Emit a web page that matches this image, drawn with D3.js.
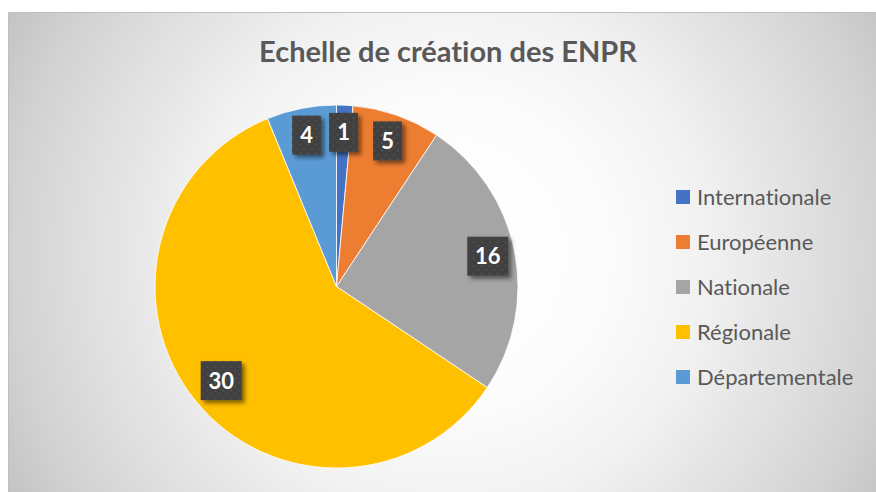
<!DOCTYPE html>
<html><head><meta charset="utf-8">
<script src="https://cdn.jsdelivr.net/npm/d3@7"></script>
<style>html,body{margin:0;padding:0;background:#fff;}svg{display:block;}text{font-variant-ligatures:none;font-feature-settings:"liga" 0;}</style>
</head><body>
<script>
const categories = ["Internationale", "Européenne", "Nationale", "Régionale", "Départementale"];
// counts shown in the data labels
const values = [1, 5, 16, 30, 4];
// share of the disc each slice occupies in the picture (percent)
const shares = [1.45, 7.85, 25.1, 59.4, 6.2];
const colors = ["#4472C4", "#ED7D31", "#A5A5A5", "#FFC000", "#5B9BD5"];
const title = "Echelle de création des ENPR";

const W = 876, H = 492;
const svg = d3.select("body").append("svg").attr("width", W).attr("height", H);
const defs = svg.append("defs");

const rg = defs.append("radialGradient").attr("id", "bg")
  .attr("gradientUnits", "userSpaceOnUse").attr("cx", 450).attr("cy", 255).attr("r", 505);
[[0, "#ffffff"], [0.3, "#fcfcfc"], [0.5, "#f2f2f2"], [0.85, "#d4d4d4"], [1, "#c3c3c3"]]
  .forEach(([o, c]) => rg.append("stop").attr("offset", o).attr("stop-color", c));

const pat = defs.append("pattern").attr("id", "dots").attr("patternUnits", "userSpaceOnUse")
  .attr("width", 8).attr("height", 8);
pat.append("rect").attr("width", 8).attr("height", 8).attr("fill", "#404040");
pat.append("circle").attr("cx", 2).attr("cy", 2).attr("r", 1.2).attr("fill", "#4e4e4e");
pat.append("circle").attr("cx", 6).attr("cy", 6).attr("r", 1.2).attr("fill", "#4a4a4a");

const f = defs.append("filter").attr("id", "shadow").attr("x", "-30%").attr("y", "-30%").attr("width", "170%").attr("height", "170%");
f.append("feDropShadow").attr("dx", 3).attr("dy", 3).attr("stdDeviation", 2.2)
  .attr("flood-color", "#000").attr("flood-opacity", 0.5);

svg.append("rect").attr("x", 8.5).attr("y", 12.5).attr("width", W).attr("height", H)
  .attr("fill", "url(#bg)").attr("stroke", "#bfbfbf").attr("stroke-width", 1);

svg.append("text").attr("x", 448).attr("y", 62).attr("text-anchor", "middle")
  .attr("font-family", "Lato, 'Open Sans', sans-serif").attr("font-weight", 700)
  .attr("font-size", 29).attr("fill", "#595959").text(title);

const cx = 336.5, cy = 286.5, R = 181.5;
const color = d3.scaleOrdinal().domain(categories).range(colors);
const data = categories.map((c, i) => ({ cat: c, value: values[i], share: shares[i] }));
const pie = d3.pie().value(d => d.share).sort(null);
const arcs = pie(data);
const arc = d3.arc().innerRadius(0).outerRadius(R);

const g = svg.append("g").attr("transform", `translate(${cx},${cy})`);
g.selectAll("path.slice").data(arcs).enter().append("path")
  .attr("class", "slice").attr("d", arc)
  .attr("fill", d => color(d.data.cat)).attr("stroke", "#ffffff").attr("stroke-width", 0.8);

const labelArc = d3.arc().innerRadius(R * 0.85).outerRadius(R * 0.85);
const labelArcBig = d3.arc().innerRadius(R * 0.82).outerRadius(R * 0.82);
const lg = g.selectAll("g.lab").data(arcs).enter().append("g").attr("class", "lab")
  .attr("transform", d => {
    const p = (d.data.share > 50 ? labelArcBig : labelArc).centroid(d);
    return `translate(${p[0]},${p[1]})`;
  });
lg.each(function (d) {
  const s = d3.select(this);
  const txt = String(d.data.value);
  const w = txt.length > 1 ? 41 : 29, h = 39;
  s.append("rect").attr("x", -w / 2).attr("y", -h / 2).attr("width", w).attr("height", h)
    .attr("fill", "url(#dots)").attr("filter", "url(#shadow)");
  s.append("text").attr("text-anchor", "middle").attr("y", 8)
    .attr("font-family", "Lato, 'Open Sans', sans-serif").attr("font-weight", 700)
    .attr("font-size", 22).attr("fill", "#ffffff").text(txt);
});

const leg = svg.append("g").attr("transform", "translate(676,0)");
const ly = d3.scalePoint().domain(categories).range([197, 377]);
const li = leg.selectAll("g").data(categories).enter().append("g")
  .attr("transform", d => `translate(0,${ly(d)})`);
li.append("rect").attr("x", 0).attr("y", -7).attr("width", 14).attr("height", 14).attr("fill", d => color(d));
li.append("text").attr("x", 21).attr("y", 7.5)
  .attr("font-family", "Lato, 'Open Sans', sans-serif").attr("font-size", 22)
  .attr("fill", "#595959").text(d => d);
</script>
</body></html>
